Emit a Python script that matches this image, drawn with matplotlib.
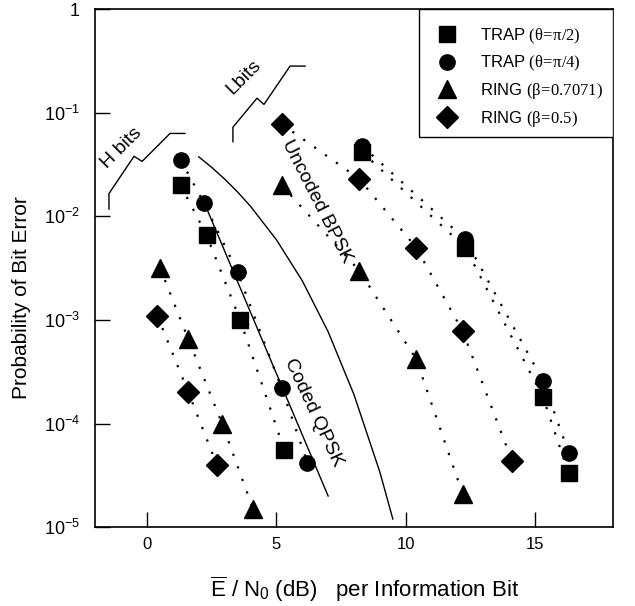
import numpy as np
import matplotlib
matplotlib.use("Agg")
import matplotlib.pyplot as plt
from matplotlib.patches import Rectangle

plt.rcParams['font.family'] = ['Liberation Sans', 'DejaVu Sans']
plt.rcParams['mathtext.fontset'] = 'custom'
plt.rcParams['mathtext.rm'] = 'Liberation Serif'
plt.rcParams['mathtext.it'] = 'Liberation Serif:italic'
plt.rcParams['mathtext.sf'] = 'Liberation Sans'

# datos (Eb/N0 en dB, BER)
trap90_izq_x = [1.3, 2.3, 3.6, 5.3]
trap90_izq_y = [0.020, 0.0066, 0.0010, 5.6e-5]
trap90_der_x = [8.3, 12.3, 15.3, 16.3]
trap90_der_y = [0.042, 0.0050, 1.8e-4, 3.3e-5]

trap45_izq_x = [1.3, 2.2, 3.5, 5.2, 6.2]
trap45_izq_y = [0.035, 0.0135, 0.0029, 2.2e-4, 4.2e-5]
trap45_der_x = [8.3, 12.3, 15.3, 16.3]
trap45_der_y = [0.048, 0.0060, 2.6e-4, 5.2e-5]

ring07_izq_x = [0.5, 1.6, 2.9, 4.1]
ring07_izq_y = [0.0032, 6.5e-4, 1.0e-4, 1.5e-5]
ring07_der_x = [5.2, 8.2, 10.4, 12.2]
ring07_der_y = [0.020, 0.0030, 4.2e-4, 2.1e-5]

ring05_izq_x = [0.4, 1.6, 2.7]
ring05_izq_y = [0.0011, 2.0e-4, 4.0e-5]
ring05_der_x = [5.2, 8.2, 10.4, 12.2, 14.1]
ring05_der_y = [0.078, 0.023, 0.0050, 7.8e-4, 4.4e-5]

# curvas de referencia
bpsk_x = [2.0, 2.5, 3.0, 3.5, 4.0, 5.0, 6.0, 7.0, 8.0, 9.0, 9.5]
bpsk_y = [0.0375, 0.0297, 0.0229, 0.0172, 0.0125, 0.00595, 0.00239, 7.7e-4, 1.9e-4, 3.4e-5, 1.2e-5]
qpsk_x = [2.3, 7.0]
qpsk_y = [0.012, 2.0e-5]

etiquetas = [r"TRAP $\mathrm{(θ\!=\!π/2)}$", r"TRAP $\mathrm{(θ\!=\!π/4)}$",
             r"RING $\mathrm{(β\!=\!0.7071)}$", r"RING $\mathrm{(β\!=\!0.5)}$"]

fig = plt.figure(figsize=(6.35, 6.06), dpi=100)
ax = fig.add_axes([0.150, 0.130, 0.815, 0.855])
ax.set_yscale('log')

punteado = (0, (1, 5))
series = [
    ('s', 11, trap90_izq_x, trap90_izq_y, trap90_der_x, trap90_der_y),
    ('o', 11, trap45_izq_x, trap45_izq_y, trap45_der_x, trap45_der_y),
    ('^', 13.5, ring07_izq_x, ring07_izq_y, ring07_der_x, ring07_der_y),
    ('D', 11, ring05_izq_x, ring05_izq_y, ring05_der_x, ring05_der_y),
]
for (m, ms, xi, yi, xd, yd), lab in zip(series, etiquetas):
    ax.plot(xi, yi, ls=punteado, color='k', lw=1.6, marker=m, ms=ms,
            mfc='k', mec='k', label=lab)
    ax.plot(xd, yd, ls=punteado, color='k', lw=1.6, marker=m, ms=ms,
            mfc='k', mec='k')

ax.plot(bpsk_x, bpsk_y, color='k', lw=1.0)
ax.plot(qpsk_x, qpsk_y, color='k', lw=1.0)

ax.text(6.55, 10**-1.86, "Uncoded BPSK", rotation=-63, ha='center', va='center', fontsize=14)
ax.text(6.45, 10**-3.89, "Coded QPSK", rotation=-65, ha='center', va='center', fontsize=14)

# llaves de H bits y L bits
hx = [-1.47, -1.47, -0.50, -0.19, 0.89, 1.47]
hy = [-1.93, -1.78, -1.42, -1.47, -1.20, -1.20]
ax.plot(hx, 10**np.array(hy), color='k', lw=1.0)
ax.text(-0.97, 10**-1.34, "H bits", rotation=45, ha='center', va='center', fontsize=14)

lx = [3.32, 3.32, 4.25, 4.52, 5.53, 6.11]
ly = [-1.28, -1.14, -0.86, -0.92, -0.55, -0.55]
ax.plot(lx, 10**np.array(ly), color='k', lw=1.0)
ax.text(3.75, 10**-0.66, "Lbits", rotation=45, ha='center', va='center', fontsize=14)

ax.set_xlim(-2, 18)
ax.set_ylim(1e-5, 1)
ax.set_xticks([0, 5, 10, 15])
ax.set_yticks([1e-5, 1e-4, 1e-3, 1e-2, 1e-1, 1])
ax.set_yticklabels([r"$\mathsf{10^{-5}}$", r"$\mathsf{10^{-4}}$", r"$\mathsf{10^{-3}}$",
                    r"$\mathsf{10^{-2}}$", r"$\mathsf{10^{-1}}$", r"$\mathsf{1}\;\;$"])
ax.minorticks_off()
ax.tick_params(direction='in', length=11, width=1)
ax.tick_params(axis='x', labelsize=12, pad=7)
ax.tick_params(axis='y', labelsize=13, pad=11)
for s in ax.spines.values():
    s.set_linewidth(1.2)

ax.set_ylabel("Probability of Bit Error", fontsize=15)
ax.yaxis.label.set_va('center')
ax.yaxis.set_label_coords(-0.142, 0.444)
ax.set_xlabel(r"$\overline{\mathsf{E}}$ / N$_{\mathsf{0}}$ (dB)   per Information Bit", fontsize=16)
ax.xaxis.label.set_va('baseline')
ax.xaxis.set_label_coords(0.521, -0.135)

# caja de la leyenda
ax.add_patch(Rectangle((0.625, 0.753), 0.375, 0.247, transform=ax.transAxes,
                       facecolor='white', edgecolor='k', lw=1.0, zorder=4))
leg = ax.legend(loc='upper left', bbox_to_anchor=(0.6535, 0.966), borderaxespad=0,
                fontsize=12, numpoints=1, handlelength=1.6, handletextpad=1.18,
                labelspacing=0.48, borderpad=0, frameon=False)
leg.set_zorder(5)
for h in leg.legend_handles:
    h.set_linestyle('None')

fig.savefig("out.png", dpi=100)
